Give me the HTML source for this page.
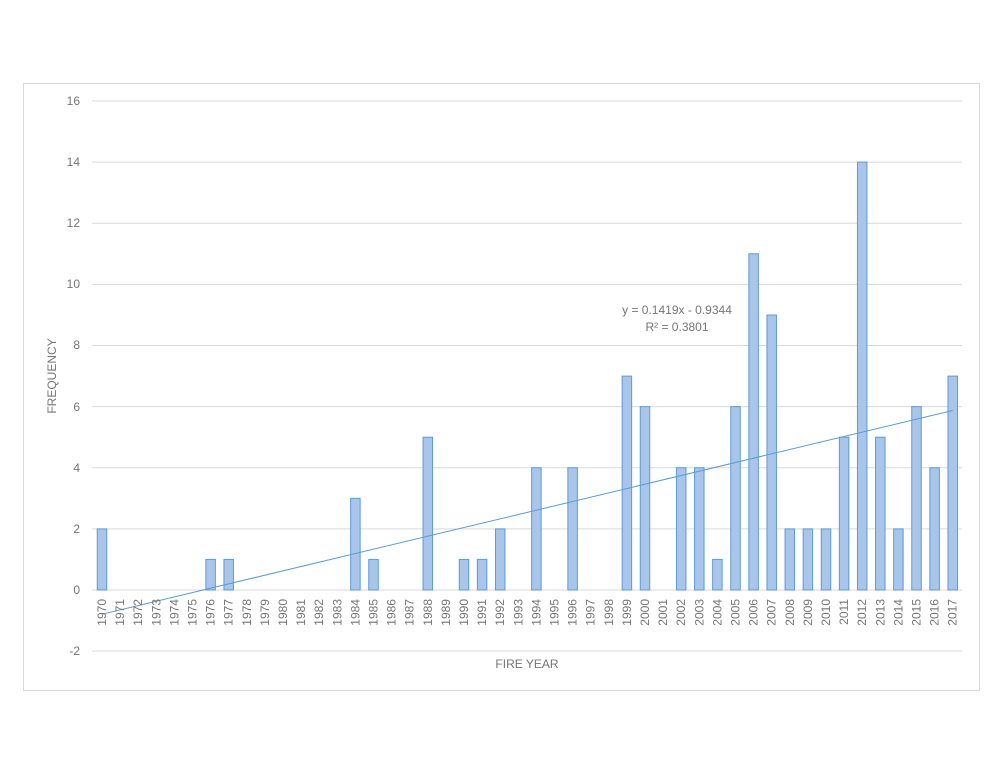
<!DOCTYPE html>
<html><head><meta charset="utf-8"><style>body{margin:0;background:#fff}svg{display:block}text{font-family:"Liberation Sans",sans-serif;fill:#757575}</style></head><body>
<svg width="1002" height="775" viewBox="0 0 1002 775">
<rect x="23.5" y="83.5" width="956" height="607" fill="#fff" stroke="#d9d9d9"/>
<g stroke="#d9d9d9" stroke-width="1">
<line x1="92" x2="962" y1="101" y2="101"/><line x1="92" x2="962" y1="162.1" y2="162.1"/><line x1="92" x2="962" y1="223.3" y2="223.3"/><line x1="92" x2="962" y1="284.4" y2="284.4"/><line x1="92" x2="962" y1="345.5" y2="345.5"/><line x1="92" x2="962" y1="406.6" y2="406.6"/><line x1="92" x2="962" y1="467.75" y2="467.75"/><line x1="92" x2="962" y1="528.9" y2="528.9"/><line x1="92" x2="962" y1="651" y2="651"/><line x1="92" x2="962" y1="590" y2="590"/>
</g>
<g font-size="12" text-anchor="end">
<text x="80" y="105">16</text><text x="80" y="166">14</text><text x="80" y="227">12</text><text x="80" y="288">10</text><text x="80" y="349">8</text><text x="80" y="411">6</text><text x="80" y="472">4</text><text x="80" y="533">2</text><text x="80" y="594">0</text><text x="80" y="655">-2</text>
</g>
<g fill="#a9c6ea" stroke="#5b9bd5" stroke-width="1">
<rect x="97.25" y="528.9" width="9.5" height="61.1"/>
<rect x="205.85" y="559.4" width="9.5" height="30.6"/>
<rect x="223.95" y="559.4" width="9.5" height="30.6"/>
<rect x="350.65" y="498.3" width="9.5" height="91.7"/>
<rect x="368.75" y="559.4" width="9.5" height="30.6"/>
<rect x="423.05" y="437.2" width="9.5" height="152.8"/>
<rect x="459.25" y="559.4" width="9.5" height="30.6"/>
<rect x="477.35" y="559.4" width="9.5" height="30.6"/>
<rect x="495.45" y="528.9" width="9.5" height="61.1"/>
<rect x="531.65" y="467.75" width="9.5" height="122.25"/>
<rect x="567.85" y="467.75" width="9.5" height="122.25"/>
<rect x="622.15" y="376.1" width="9.5" height="213.9"/>
<rect x="640.25" y="406.6" width="9.5" height="183.4"/>
<rect x="676.45" y="467.75" width="9.5" height="122.25"/>
<rect x="694.55" y="467.75" width="9.5" height="122.25"/>
<rect x="712.65" y="559.4" width="9.5" height="30.6"/>
<rect x="730.75" y="406.6" width="9.5" height="183.4"/>
<rect x="748.85" y="253.8" width="9.5" height="336.2"/>
<rect x="766.95" y="315" width="9.5" height="275"/>
<rect x="785.05" y="528.9" width="9.5" height="61.1"/>
<rect x="803.15" y="528.9" width="9.5" height="61.1"/>
<rect x="821.25" y="528.9" width="9.5" height="61.1"/>
<rect x="839.35" y="437.2" width="9.5" height="152.8"/>
<rect x="857.45" y="162.1" width="9.5" height="427.9"/>
<rect x="875.55" y="437.2" width="9.5" height="152.8"/>
<rect x="893.65" y="528.9" width="9.5" height="61.1"/>
<rect x="911.75" y="406.6" width="9.5" height="183.4"/>
<rect x="929.85" y="467.75" width="9.5" height="122.25"/>
<rect x="947.95" y="376.1" width="9.5" height="213.9"/>
</g>
<line x1="102" y1="614.2" x2="952.7" y2="410.5" stroke="#5b9bd5" stroke-width="1"/>
<g font-size="12" text-anchor="end">
<text x="106" y="599" transform="rotate(-90 106 599)">1970</text>
<text x="124.1" y="599" transform="rotate(-90 124.1 599)">1971</text>
<text x="142.2" y="599" transform="rotate(-90 142.2 599)">1972</text>
<text x="160.3" y="599" transform="rotate(-90 160.3 599)">1973</text>
<text x="178.4" y="599" transform="rotate(-90 178.4 599)">1974</text>
<text x="196.5" y="599" transform="rotate(-90 196.5 599)">1975</text>
<text x="214.6" y="599" transform="rotate(-90 214.6 599)">1976</text>
<text x="232.7" y="599" transform="rotate(-90 232.7 599)">1977</text>
<text x="250.8" y="599" transform="rotate(-90 250.8 599)">1978</text>
<text x="268.9" y="599" transform="rotate(-90 268.9 599)">1979</text>
<text x="287" y="599" transform="rotate(-90 287 599)">1980</text>
<text x="305.1" y="599" transform="rotate(-90 305.1 599)">1981</text>
<text x="323.2" y="599" transform="rotate(-90 323.2 599)">1982</text>
<text x="341.3" y="599" transform="rotate(-90 341.3 599)">1983</text>
<text x="359.4" y="599" transform="rotate(-90 359.4 599)">1984</text>
<text x="377.5" y="599" transform="rotate(-90 377.5 599)">1985</text>
<text x="395.6" y="599" transform="rotate(-90 395.6 599)">1986</text>
<text x="413.7" y="599" transform="rotate(-90 413.7 599)">1987</text>
<text x="431.8" y="599" transform="rotate(-90 431.8 599)">1988</text>
<text x="449.9" y="599" transform="rotate(-90 449.9 599)">1989</text>
<text x="468" y="599" transform="rotate(-90 468 599)">1990</text>
<text x="486.1" y="599" transform="rotate(-90 486.1 599)">1991</text>
<text x="504.2" y="599" transform="rotate(-90 504.2 599)">1992</text>
<text x="522.3" y="599" transform="rotate(-90 522.3 599)">1993</text>
<text x="540.4" y="599" transform="rotate(-90 540.4 599)">1994</text>
<text x="558.5" y="599" transform="rotate(-90 558.5 599)">1995</text>
<text x="576.6" y="599" transform="rotate(-90 576.6 599)">1996</text>
<text x="594.7" y="599" transform="rotate(-90 594.7 599)">1997</text>
<text x="612.8" y="599" transform="rotate(-90 612.8 599)">1998</text>
<text x="630.9" y="599" transform="rotate(-90 630.9 599)">1999</text>
<text x="649" y="599" transform="rotate(-90 649 599)">2000</text>
<text x="667.1" y="599" transform="rotate(-90 667.1 599)">2001</text>
<text x="685.2" y="599" transform="rotate(-90 685.2 599)">2002</text>
<text x="703.3" y="599" transform="rotate(-90 703.3 599)">2003</text>
<text x="721.4" y="599" transform="rotate(-90 721.4 599)">2004</text>
<text x="739.5" y="599" transform="rotate(-90 739.5 599)">2005</text>
<text x="757.6" y="599" transform="rotate(-90 757.6 599)">2006</text>
<text x="775.7" y="599" transform="rotate(-90 775.7 599)">2007</text>
<text x="793.8" y="599" transform="rotate(-90 793.8 599)">2008</text>
<text x="811.9" y="599" transform="rotate(-90 811.9 599)">2009</text>
<text x="830" y="599" transform="rotate(-90 830 599)">2010</text>
<text x="848.1" y="599" transform="rotate(-90 848.1 599)">2011</text>
<text x="866.2" y="599" transform="rotate(-90 866.2 599)">2012</text>
<text x="884.3" y="599" transform="rotate(-90 884.3 599)">2013</text>
<text x="902.4" y="599" transform="rotate(-90 902.4 599)">2014</text>
<text x="920.5" y="599" transform="rotate(-90 920.5 599)">2015</text>
<text x="938.6" y="599" transform="rotate(-90 938.6 599)">2016</text>
<text x="956.7" y="599" transform="rotate(-90 956.7 599)">2017</text>
</g>
<text x="527" y="668" font-size="12" text-anchor="middle">FIRE YEAR</text>
<text x="56" y="376" font-size="12" text-anchor="middle" transform="rotate(-90 56 376)">FREQUENCY</text>
<text x="677" y="314" font-size="12" text-anchor="middle">y = 0.1419x - 0.9344</text>
<text x="677" y="331" font-size="12" text-anchor="middle">R² = 0.3801</text>
</svg>
</body></html>
